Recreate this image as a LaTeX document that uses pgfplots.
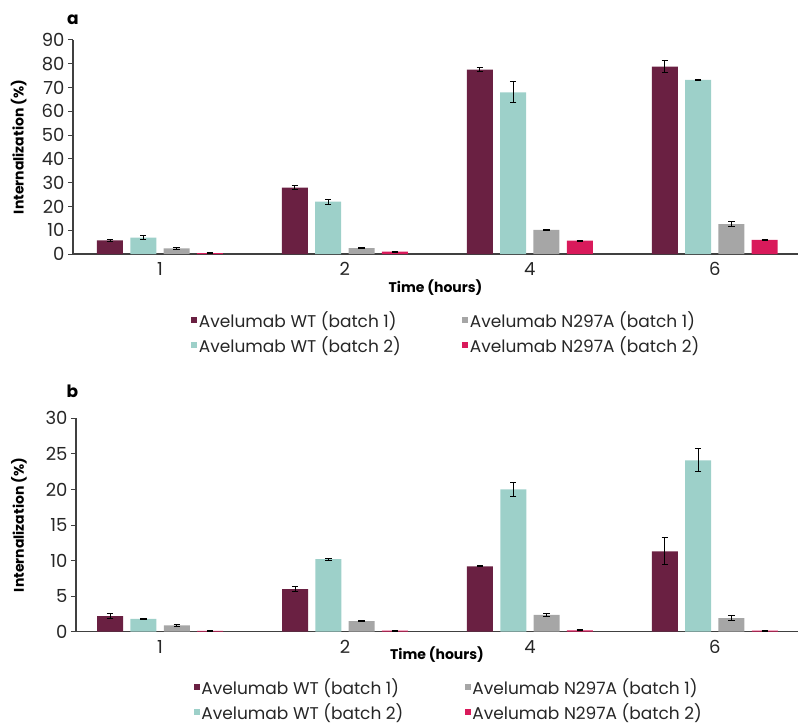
\documentclass[border=0pt]{standalone}
\usepackage{fontspec}
\setmainfont{Poppins}
\usepackage{pgfplots}
\pgfplotsset{compat=1.18}
\definecolor{cwta}{RGB}{106,32,66}
\definecolor{cwtb}{RGB}{157,208,201}
\definecolor{cna}{RGB}{166,166,166}
\definecolor{cnb}{RGB}{217,26,91}
\definecolor{axisc}{RGB}{64,64,64}
\pgfplotsset{
  panel/.style={
    scale only axis,
    ybar=7.3pt, bar width=26pt,
    axis x line=bottom, axis y line=left,
    axis line style={-, draw=axisc, line width=1.3pt},
    xtick={0,1,2,3}, xticklabels={1,2,4,6},
    x tick style={draw=none},
    y tick style={draw=axisc, line width=1pt},
    tick align=outside, major tick length=5pt,
    ymin=0,
    /pgf/number format/assume math mode=true,
    tick label style={font=\fontsize{18}{21}\selectfont, text=black!85},
    label style={font=\bfseries\fontsize{14}{17}\selectfont},
    ylabel={Internalization (\%)},
    xlabel={Time (hours)},
    ylabel style={rotate=0, anchor=center},
    xlabel style={anchor=center},
    title style={font=\bfseries\fontsize{17}{20}\selectfont, anchor=center, yshift=0pt},
    legend columns=2, transpose legend,
    legend cell align=left,
    legend style={draw=none, fill=none, anchor=north west, inner sep=0pt,
      row sep=4.5pt, font=\fontsize{17}{20}\selectfont, text=black!85,
      nodes={inner sep=1.5pt}},
  },
  bars/.style={draw=none, fill=#1,
    legend image code/.code={\fill[##1,draw=none] (0pt,-3pt) rectangle (6pt,3pt);},
    error bars/y dir=both, error bars/y explicit,
    error bars/error bar style={black, line width=0.9pt},
    error bars/error mark options={black, rotate=90, line width=0.9pt, mark size=3.2pt}},
}
\begin{document}
\begin{tikzpicture}
\path[use as bounding box] (0,0) rectangle (800pt,724pt);
% ---------- panel a ----------
\begin{axis}[panel,
  at={(73pt,470pt)}, anchor=south west,
  width=725pt, height=214pt,
  xmin=-0.47, xmax=3.45,
  ymax=90, ytick={0,10,...,90},
  ylabel style={at={(axis description cs:-0.075,0.5)}},
  xlabel style={at={(axis description cs:0.5,-0.159)}},
  title={a}, title style={at={(axis description cs:0.0,1.066)}},
  legend style={at={(axis description cs:0.163,-0.262)}},
]
\addplot[bars=cwta] coordinates {
  (0,5.7) +- (0,0.3)
  (1,27.9) +- (0,0.8)
  (2,77.5) +- (0,0.8)
  (3,78.8) +- (0,2.6)
};
\addlegendentry{\makebox[262pt][l]{Avelumab WT (batch 1)}}
\addplot[bars=cwtb] coordinates {
  (0,6.9) +- (0,0.9)
  (1,22.0) +- (0,1.0)
  (2,68.0) +- (0,4.4)
  (3,73.2) +- (0,0.4)
};
\addlegendentry{\makebox[262pt][l]{Avelumab WT (batch 2)}}
\addplot[bars=cna] coordinates {
  (0,2.4) +- (0,0.3)
  (1,2.5) +- (0,0.3)
  (2,10.1) +- (0,0.3)
  (3,12.6) +- (0,1.0)
};
\addlegendentry{Avelumab N297A (batch 1)}
\addplot[bars=cnb] coordinates {
  (0,0.4) +- (0,0.1)
  (1,1.0) +- (0,0.2)
  (2,5.6) +- (0,0.2)
  (3,5.9) +- (0,0.3)
};
\addlegendentry{Avelumab N297A (batch 2)}
\end{axis}
% ---------- panel b ----------
\begin{axis}[panel,
  at={(76pt,92.3pt)}, anchor=south west,
  width=722pt, height=213.4pt,
  xmin=-0.455, xmax=3.45,
  ymax=30, ytick={0,5,...,30},
  ylabel style={at={(axis description cs:-0.079,0.5)}},
  xlabel style={at={(axis description cs:0.5,-0.109)}},
  title={b}, title style={at={(axis description cs:-0.005,1.100)}},
  legend style={at={(axis description cs:0.163,-0.212)}},
]
\addplot[bars=cwta] coordinates {
  (0,2.2) +- (0,0.3)
  (1,6.0) +- (0,0.35)
  (2,9.2) +- (0,0.05)
  (3,11.3) +- (0,1.9)
};
\addlegendentry{\makebox[262pt][l]{Avelumab WT (batch 1)}}
\addplot[bars=cwtb] coordinates {
  (0,1.8) +- (0,0.1)
  (1,10.2) +- (0,0.15)
  (2,20.0) +- (0,1.0)
  (3,24.1) +- (0,1.6)
};
\addlegendentry{\makebox[262pt][l]{Avelumab WT (batch 2)}}
\addplot[bars=cna] coordinates {
  (0,0.9) +- (0,0.1)
  (1,1.5) +- (0,0.05)
  (2,2.35) +- (0,0.15)
  (3,1.9) +- (0,0.37)
};
\addlegendentry{Avelumab N297A (batch 1)}
\addplot[bars=cnb] coordinates {
  (0,0.1) +- (0,0.02)
  (1,0.15) +- (0,0.05)
  (2,0.2) +- (0,0.05)
  (3,0.15) +- (0,0.05)
};
\addlegendentry{Avelumab N297A (batch 2)}
\end{axis}
\end{tikzpicture}
\end{document}
